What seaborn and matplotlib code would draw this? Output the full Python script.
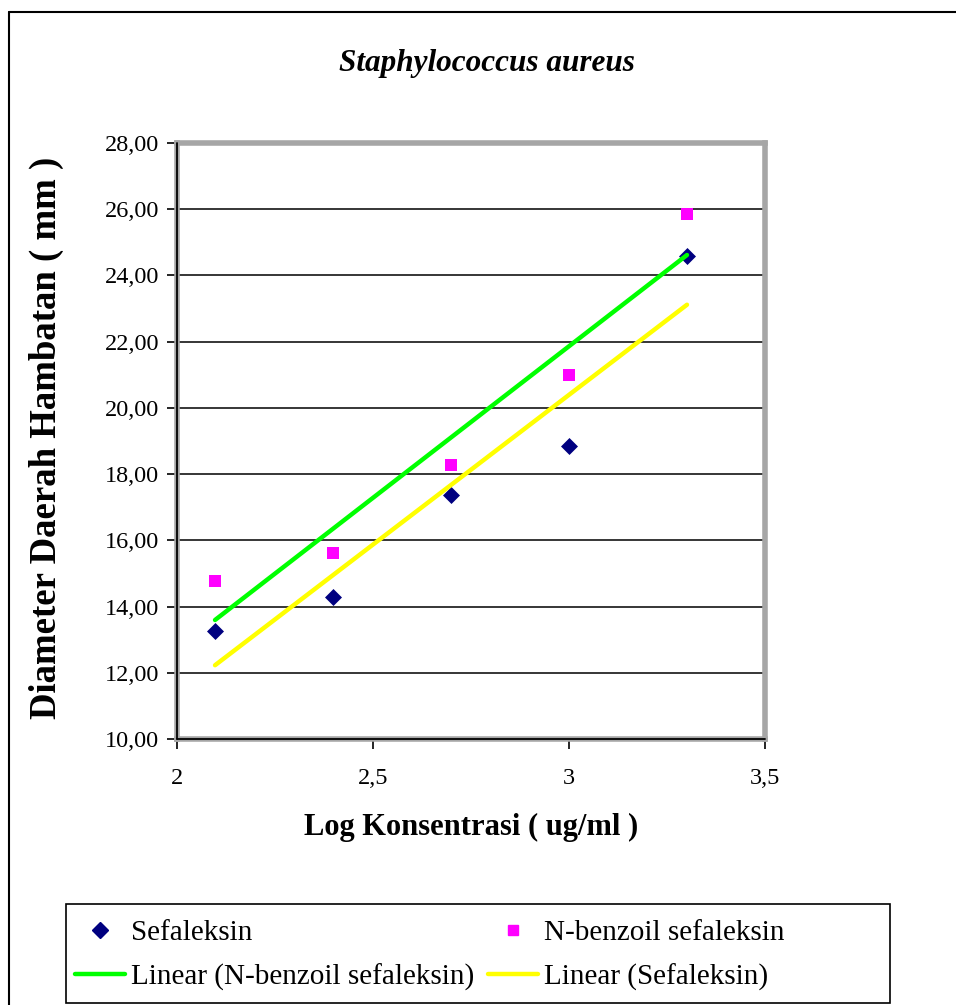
import numpy as np
import pandas as pd
import seaborn as sns
import matplotlib.pyplot as plt
from matplotlib.lines import Line2D
from matplotlib.patches import Rectangle
from matplotlib.ticker import FuncFormatter

# data
log_konsentrasi = [2.097, 2.398, 2.699, 3.0, 3.301]
sefaleksin = [13.26, 14.29, 17.37, 18.85, 24.59]
n_benzoil = [14.77, 15.62, 18.28, 21.00, 25.86]

x_ticks = [2, 2.5, 3, 3.5]
y_ticks = [10, 12, 14, 16, 18, 20, 22, 24, 26, 28]

df = pd.DataFrame({"x": log_konsentrasi, "Sefaleksin": sefaleksin,
                   "N-benzoil sefaleksin": n_benzoil})

sns.set_style("white")
plt.rcParams['font.family'] = ['Liberation Serif', 'DejaVu Serif']
plt.rcParams['text.color'] = 'black'
plt.rcParams['axes.labelcolor'] = 'black'
plt.rcParams['xtick.color'] = 'black'
plt.rcParams['ytick.color'] = 'black'

W, H = 956, 1005
fig = plt.figure(figsize=(W / 100, H / 100), dpi=100)
ax = fig.add_axes([177 / W, 1 - 739 / H, (765 - 177) / W, (739 - 143) / H])

# scatter points
sns.scatterplot(x="x", y="Sefaleksin", data=df, ax=ax, marker="D", s=75,
                color="#000080", edgecolor="#000080", linewidth=0, zorder=3)
sns.scatterplot(x="x", y="N-benzoil sefaleksin", data=df, ax=ax, marker="s", s=80,
                color="#FF00FF", edgecolor="#FF00FF", linewidth=0, zorder=3)

# linear trendlines
sns.regplot(x="x", y="N-benzoil sefaleksin", data=df, ax=ax, scatter=False, ci=None,
            truncate=True, line_kws={"color": "#00FF00", "lw": 3.2, "zorder": 4})
sns.regplot(x="x", y="Sefaleksin", data=df, ax=ax, scatter=False, ci=None,
            truncate=True, line_kws={"color": "#FFFF00", "lw": 3.2, "zorder": 4})

ax.set_xlim(2, 3.5)
ax.set_ylim(10, 28)
ax.set_xticks(x_ticks)
ax.set_yticks(y_ticks)
ax.xaxis.set_major_formatter(FuncFormatter(lambda v, p: f"{v:g}".replace(".", ",")))
ax.yaxis.set_major_formatter(FuncFormatter(lambda v, p: f"{v:.2f}".replace(".", ",")))
ax.tick_params(axis="both", direction="out", length=7, width=1.2, color="black",
               labelsize=17.5, pad=6)
ax.tick_params(axis="x", pad=14)
ax.tick_params(left=True, bottom=True)
ax.grid(axis="y", color="black", lw=1.1)
ax.grid(axis="x", visible=False)
ax.set_axisbelow(True)

for side in ["top", "right", "left", "bottom"]:
    ax.spines[side].set_color("#A6A6A6")
    ax.spines[side].set_linewidth(4)
ax.axvline(2, color="black", lw=1.3, zorder=5, clip_on=False)
ax.axhline(10, color="black", lw=1.3, zorder=5, clip_on=False)

ax.set_xlabel("Log Konsentrasi ( ug/ml )", fontsize=22, fontweight="bold")
ax.set_ylabel("Diameter Daerah Hambatan ( mm )", fontsize=26.5, fontweight="bold")
ax.xaxis.set_label_coords(0.5, (739 - 827) / 596)
ax.yaxis.set_label_coords((46 - 177) / 588, (739 - 438) / 596)
ax.xaxis.label.set_va("center")
ax.yaxis.label.set_va("center")

fig.text(487 / W, 1 - 63 / H, "Staphylococcus aureus", ha="center", va="center",
         fontsize=22.5, fontweight="bold", fontstyle="italic")

# outer chart border (top and left visible)
fig.add_artist(Line2D([9 / W, 9 / W], [0, 1 - 12 / H], color="black", lw=1.5))
fig.add_artist(Line2D([9 / W, 1], [1 - 12 / H, 1 - 12 / H], color="black", lw=1.5))

# legend box
fig.add_artist(Rectangle((66 / W, 1 - 1003 / H), (890 - 66) / W, (1003 - 904) / H,
                         transform=fig.transFigure, fill=False, edgecolor="black", lw=1.2))

handles = [
    Line2D([], [], marker="D", ls="", color="#000080", markersize=8),
    Line2D([], [], color="#00FF00", lw=3.2),
    Line2D([], [], marker="s", ls="", color="#FF00FF", markersize=7.5),
    Line2D([], [], color="#FFFF00", lw=3.2),
]
labels = ["Sefaleksin", "Linear (N-benzoil sefaleksin)",
          "N-benzoil sefaleksin", "Linear (Sefaleksin)"]
leg = fig.legend(handles, labels, ncol=2, loc="upper left",
                 bbox_to_anchor=(66 / W, 1 - 911 / H),
                 fontsize=21, frameon=False, handlelength=1.72,
                 handletextpad=0.22, columnspacing=0.45, borderpad=0.3,
                 borderaxespad=0, labelspacing=0.6)

fig.savefig("out.png", dpi=100)
